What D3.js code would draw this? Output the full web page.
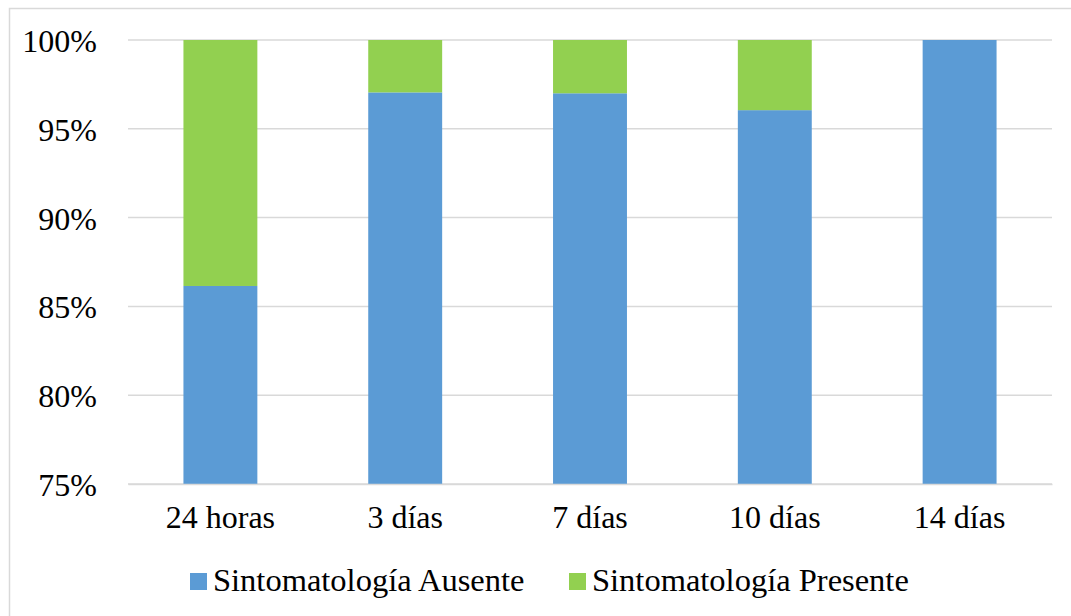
<!DOCTYPE html>
<html lang="es">
<head>
<meta charset="UTF-8">
<title>Sintomatología</title>
<style>
    body { margin: 0; background: #fff; }
    svg text { font-family: "Times New Roman", "Liberation Serif", Tinos, "DejaVu Serif", serif; fill: #000; }
    .tick text { font-size: 32px; }
    .legend text { font-size: 32.5px; }
</style>
</head>
<body>
<svg width="1071" height="616"></svg>
<script src="https://d3js.org/d3.v7.min.js"></script>
<script>

var categories = ["24 horas", "3 días", "7 días", "10 días", "14 días"];
var ausente = [86.15, 97.05, 97.0, 96.05, 100];
var presente = [13.85, 2.95, 3.0, 3.95, 0];
var seriesNames = ["Sintomatología Ausente", "Sintomatología Presente"];
var seriesColors = ["#5b9bd5", "#92d050"];
var yTicks = [75, 80, 85, 90, 95, 100];

var serif = "'Times New Roman', 'Liberation Serif', Tinos, 'DejaVu Serif', serif";

var svg = d3.select("svg");

// chart border
svg.append("rect")
    .attr("x", 9.5).attr("y", 8.5)
    .attr("width", 1080).attr("height", 620)
    .attr("fill", "none")
    .attr("stroke", "#d9d9d9")
    .attr("stroke-width", 1.5);

var mLeft = 128, mRight = 1052, mTop = 40, mBottom = 484;

var x = d3.scaleBand()
    .domain(categories)
    .range([mLeft, mRight])
    .paddingInner(0.6)
    .paddingOuter(0.3);

var y = d3.scaleLinear()
    .domain([75, 100])
    .range([mBottom, mTop]);

// gridlines
svg.append("g")
    .selectAll("line")
    .data(yTicks)
    .enter().append("line")
    .attr("x1", mLeft).attr("x2", mRight)
    .attr("y1", function(d) { return y(d); })
    .attr("y2", function(d) { return y(d); })
    .attr("stroke", "#d9d9d9")
    .attr("stroke-width", 1.5);

var stackData = categories.map(function(c, i) {
    return { cat: c, ausente: ausente[i], presente: presente[i] };
});
var stack = d3.stack().keys(["ausente", "presente"]);
var layers = stack(stackData);

svg.append("g")
    .selectAll("g")
    .data(layers)
    .enter().append("g")
    .attr("fill", function(d, i) { return seriesColors[i]; })
    .selectAll("rect")
    .data(function(d) { return d; })
    .enter().append("rect")
    .attr("x", function(d) { return x(d.data.cat); })
    .attr("width", x.bandwidth())
    .attr("y", function(d) { return y(Math.min(d[1], 100)); })
    .attr("height", function(d) {
        var lo = Math.max(d[0], 75);
        return Math.max(0, y(lo) - y(Math.min(d[1], 100)));
    });

// y axis
var yAxis = svg.append("g")
    .attr("transform", "translate(" + mLeft + ",0)")
    .call(d3.axisLeft(y).tickValues(yTicks).tickSize(0).tickPadding(31)
        .tickFormat(function(d) { return d + "%"; }));
yAxis.attr("font-family", serif);
yAxis.select(".domain").remove();
yAxis.selectAll("text").attr("dy", "0.36em").style("font-family", serif);

// x axis
var xAxis = svg.append("g")
    .attr("transform", "translate(0," + mBottom + ")")
    .call(d3.axisBottom(x).tickSize(0).tickPadding(21));
xAxis.attr("font-family", serif);
xAxis.selectAll("text").style("font-family", serif);
xAxis.select(".domain").attr("stroke", "#d9d9d9").attr("stroke-width", 1.5);

// legend
var legendX = [190, 569];
var legend = svg.append("g").attr("class", "legend")
    .selectAll("g")
    .data(seriesNames)
    .enter().append("g")
    .attr("transform", function(d, i) { return "translate(" + legendX[i] + ",573)"; });
legend.append("rect")
    .attr("width", 17).attr("height", 17)
    .attr("fill", function(d, i) { return seriesColors[i]; });
legend.append("text")
    .attr("x", 23).attr("y", 18)
    .style("font-family", serif)
    .text(function(d) { return d; });

</script>
</body>
</html>
